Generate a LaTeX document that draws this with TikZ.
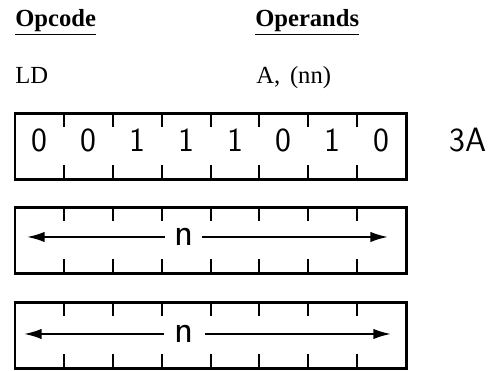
\documentclass[tikz,border=0pt]{standalone}
\usepackage{fontspec}
\setmainfont{Liberation Serif}
\usetikzlibrary{calc,arrows.meta}
\tikzset{
	headtext/.style={anchor=base west, inner sep=0pt, font=\fontsize{17.5}{21}\selectfont},
	bittext/.style={anchor=base, inner sep=0pt, font=\sffamily\fontsize{24}{28}\selectfont},
	ntext/.style={inner xsep=0.22cm, inner ysep=0pt, font=\sffamily\fontsize{28}{32}\selectfont},
	spanarrow/.style={line width=0.5mm, -{Latex[length=4.4mm,width=2.6mm]}}
}
\def\bytebox(#1,#2){
	\draw[line width=0.75mm] (#1,#2) rectangle ++(9.776,1.65);
	\foreach \i in {1,...,7}{
		\draw[line width=0.5mm] ($(#1,#2)+(\i*1.222,0)$) -- ++(0,0.375);
		\draw[line width=0.5mm] ($(#1,#2)+(\i*1.222,1.65)$) -- ++(0,-0.325);
	}
}

\begin{document}
\begin{tikzpicture}
				\useasboundingbox (0,0) rectangle (12.4,9.275);
				
				\node[headtext] (opcode) at (0.375,8.6) {\bfseries\underline{Opcode}};
				\node[headtext] (operands) at (6.375,8.6) {\bfseries\underline{Operands}};
				\node[headtext] (mnemonic) at (0.375,7.175) {LD};
				\node[headtext] (args) at (6.4,7.175) {A,\hspace{0.4em}(nn)};
				
				\bytebox(0.375,4.775)
				\node[bittext] (b7) at (0.986,5.475) {0};
				\node[bittext] (b6) at (2.208,5.475) {0};
				\node[bittext] (b5) at (3.430,5.475) {1};
				\node[bittext] (b4) at (4.652,5.475) {1};
				\node[bittext] (b3) at (5.874,5.475) {1};
				\node[bittext] (b2) at (7.096,5.475) {0};
				\node[bittext] (b1) at (8.318,5.475) {1};
				\node[bittext] (b0) at (9.540,5.475) {0};
				\node[bittext] (hex) at (11.7,5.475) {3A};
				
				\bytebox(0.375,2.425)
				\node[ntext] (nlow) at (4.59,3.35) {n};
				\coordinate (lowleft) at (0.675,3.35);
				\coordinate (lowright) at (9.7,3.35);
				\draw[spanarrow] (nlow) -- (lowleft);
				\draw[spanarrow] (nlow) -- (lowright);
				
				\bytebox(0.375,0.05)
				\node[ntext, inner xsep=0.27cm] (nhigh) at (4.61,0.925) {n};
				\coordinate (highleft) at (0.6,0.925);
				\coordinate (highright) at (9.775,0.925);
				\draw[spanarrow] (nhigh) -- (highleft);
				\draw[spanarrow] (nhigh) -- (highright);
\end{tikzpicture}
\end{document}
